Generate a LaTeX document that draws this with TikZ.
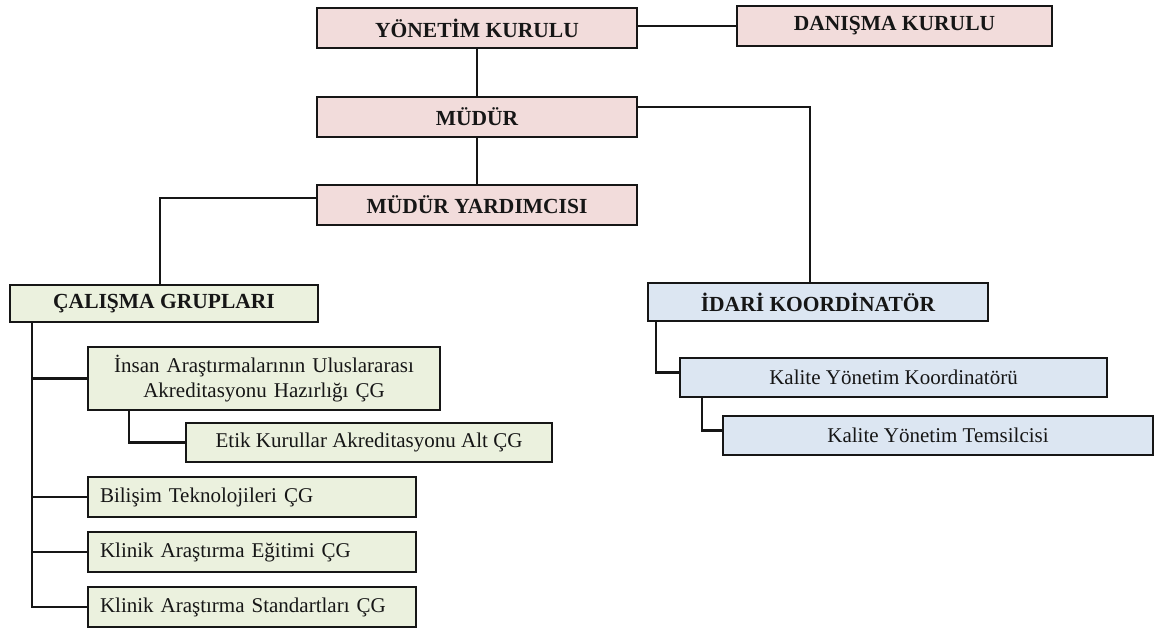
\documentclass[tikz,border=0pt]{standalone}
\usepackage{fontspec}
\setmainfont{Liberation Serif}
\usepackage{tikz}
\usetikzlibrary{calc}
\definecolor{ink}{RGB}{22,22,22}
\definecolor{pinkbox}{HTML}{F2DCDB}
\definecolor{greenbox}{HTML}{EBF1DE}
\definecolor{bluebox}{HTML}{DCE6F2}

\begin{document}
\begin{tikzpicture}[x=1pt,y=-1pt,
  box/.style={draw=ink,line width=2.4pt,inner sep=0pt,text=ink,font=\fontsize{21}{25}\selectfont},
  head/.style={box,font=\fontsize{21.5}{25}\selectfont\bfseries},
  leftbox/.style={box,fill=greenbox,text width=304,inner xsep=12,align=left,minimum height=40},
  link/.style={draw=ink,line width=2.2pt}]
 \useasboundingbox (0,0) rectangle (1158,629);
 % top levels
 \node[head,fill=pinkbox,minimum width=320,minimum height=40] (yk) at (477,28) {YÖNETİM KURULU};
 \node[head,fill=pinkbox,minimum width=315,minimum height=40] (dk) at (894.5,26) {DANIŞMA KURULU};
 \node[head,fill=pinkbox,minimum width=320,minimum height=40] (mudur) at (477,117) {MÜDÜR};
 \node[head,fill=pinkbox,minimum width=320,minimum height=40] (myard) at (477,205) {MÜDÜR YARDIMCISI};
 % two branches
 \node[head,fill=greenbox,minimum width=308,minimum height=37] (cg) at (164,303.5) {ÇALIŞMA GRUPLARI};
 \node[head,fill=bluebox,minimum width=340,minimum height=38] (idari) at (818,302) {İDARİ KOORDİNATÖR};
 % working groups
 \node[box,fill=greenbox,text width=334,inner xsep=9,align=center,minimum height=63] (insan) at (264,378.5)
   {İnsan Araştırmalarının Uluslararası\\Akreditasyonu Hazırlığı ÇG};
 \node[box,fill=greenbox,minimum width=366,minimum height=39] (etik) at (369,442.5) {Etik Kurullar Akreditasyonu Alt ÇG};
 \node[leftbox] (bilisim) at (252,497) {Bilişim Teknolojileri ÇG};
 \node[leftbox] (egitim) at (252,552) {Klinik Araştırma Eğitimi ÇG};
 \node[leftbox] (standart) at (252,607) {Klinik Araştırma Standartları ÇG};
 % quality
 \node[box,fill=bluebox,minimum width=427,minimum height=39] (kyk) at (893.5,377.5) {Kalite Yönetim Koordinatörü};
 \node[box,fill=bluebox,minimum width=430,minimum height=39] (kyt) at (938,435.5) {Kalite Yönetim Temsilcisi};
 % connectors
 \draw[link] ([yshift=2]yk.east) -- ([yshift=2]yk.east -| dk.west);
 \draw[link] (yk) -- (mudur);
 \draw[link] (mudur) -- (myard);
 \draw[link] ([yshift=10]mudur.east) -| ([xshift=-8]idari.north);
 \draw[link] ([yshift=7]myard.west) -| ([xshift=-4]cg.north);
 \coordinate (trunk) at ([xshift=23]cg.south west);
 \draw[link] (trunk) |- (insan.west);
 \draw[link] (trunk) |- (bilisim.west);
 \draw[link] (trunk) |- (egitim.west);
 \draw[link] (trunk) |- (standart.west);
 \draw[link] ([xshift=42]insan.south west) |- (etik.west);
 \draw[link] ([xshift=9]idari.south west) |- ([yshift=5]kyk.west);
 \draw[link] ([xshift=23]kyk.south west) |- ([yshift=5]kyt.west);
\end{tikzpicture}
\end{document}
